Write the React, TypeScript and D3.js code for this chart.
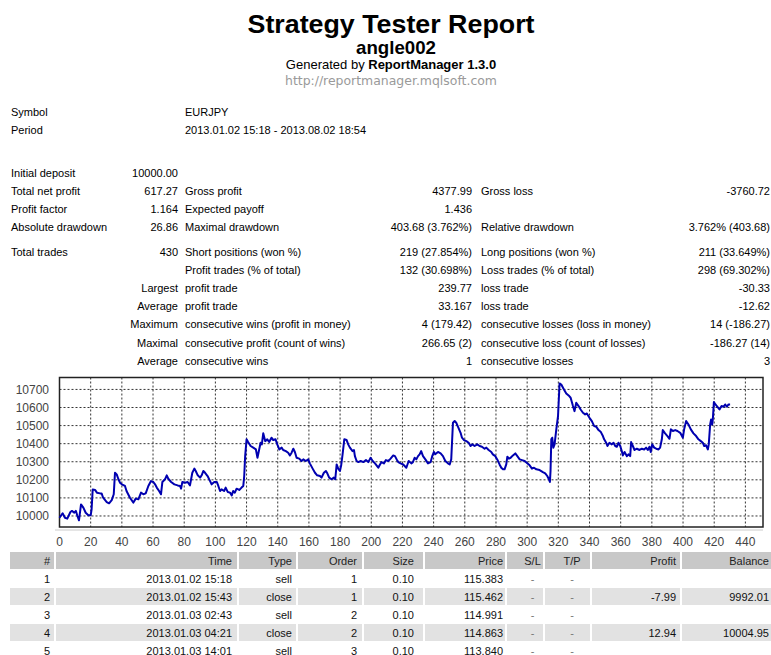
import React from 'react'
import * as d3 from 'd3'

// balance curve (trade number -> balance)
const tradeNo = [
  0, 2, 3.5, 5, 7, 8, 9.5, 10.5, 11.5, 12.5, 13.8, 15.3, 16.8, 18.5, 20, 20.6, 21.3, 22.8, 24, 26,
  27, 28, 30.3, 31.8, 33.5, 34.8, 35.6, 36.7, 37.8, 38.8, 40, 42, 43, 45.2, 47.4, 48.9, 50.6, 52.3, 53.8, 55.3,
  57, 58.7, 60.2, 61.3, 62.4, 63.9, 65.1, 66, 67.7, 68.8, 69.8, 71.6, 73.7, 75.8, 77.3, 78, 78.8, 80.5, 82.2, 83.7,
  85.2, 86.5, 87.4, 88.7, 90.2, 91.2, 92.3, 93.4, 95, 96.6, 97.6, 99.3, 100.9, 101.9, 103, 104, 105.6, 106.6, 107.9, 109.4,
  110.5, 111.4, 112.5, 113.6, 115.3, 116.8, 117.9, 118.5, 119.1, 120, 121, 122.6, 124.3, 126, 127, 128.1, 129, 129.8, 130.7, 132,
  133.3, 134.5, 136, 137.1, 138.6, 139.7, 141, 142.5, 143.5, 145.2, 146.7, 147.8, 148.9, 150, 151, 152.1, 153.8, 155.3, 156.4, 158,
  159.6, 160.6, 162.4, 163.9, 165.3, 167.1, 168.1, 169.6, 170.9, 171.8, 173, 174.5, 176, 176.9, 177.8, 178.8, 179.9, 180.7, 181.6, 182.7,
  184.2, 185.2, 186.3, 188, 188.9, 189.5, 190.6, 191.7, 193.2, 194.9, 196.6, 198.1, 199.6, 200.9, 202.4, 203.4, 204.5, 205.6, 206.6, 208.1,
  209.4, 210.9, 212.4, 214.1, 215.2, 216.3, 217.3, 218.8, 220.5, 222.5, 224, 225.7, 226.7, 227.8, 228.9, 230, 231, 232, 233.2, 234.7,
  236.4, 238.1, 239.1, 240.2, 241, 242.8, 244.5, 246, 247.5, 249.2, 250.3, 251.3, 252.4, 253.5, 254.5, 255.6, 257.3, 258.2, 259.5, 261,
  262.5, 263.7, 264.8, 266.3, 268, 269.5, 271, 272.7, 273.8, 275.3, 277, 278, 279.6, 280.8, 282.3, 283.4, 284.5, 285.5, 286.6, 287.3,
  288.3, 289.4, 290.9, 292.4, 293.7, 295.2, 296.7, 298.4, 300.1, 301.6, 303.1, 304.4, 305.9, 308, 310.1, 311.6, 312.9, 313.8, 314.6, 315,
  315.5, 316.1, 316.8, 317.6, 318.7, 319.8, 320.8, 321.9, 323.6, 325.1, 326.6, 327.9, 329.4, 330.4, 331.5, 333, 334.3, 335.8, 337.2, 338.3,
  340, 341.5, 343, 344.3, 345.8, 347.3, 348.6, 349.4, 350.7, 351.5, 352.8, 354.3, 355.4, 356.5, 357.5, 358.6, 359.7, 360.7, 361.4, 362.5,
  364, 365, 366.1, 366.7, 367.8, 368.9, 370.4, 372.1, 373.6, 375.1, 376.3, 377.4, 378.5, 379.3, 380.2, 381.5, 382.8, 384.3, 385.3, 386.4,
  387, 388.5, 390, 391.3, 392.2, 393.5, 395, 396.4, 398.2, 399.9, 400.7, 402, 403.5, 405, 406.7, 408.4, 409.9, 411.4, 412.7, 413.6,
  414.8, 415.9, 416.5, 417.4, 418, 418.7, 419.1, 419.8, 420.8, 422.1, 423.4, 424.7, 426, 427, 428.1, 429.2, 430.2,
]
const balance = [
  9990, 10015, 9990, 9985, 10022, 10028, 10018, 10028, 10000, 9976, 10064, 10046, 10018, 10004, 10004, 10037, 10147, 10144, 10129, 10125,
  10125, 10101, 10077, 10070, 10088, 10120, 10239, 10230, 10203, 10184, 10175, 10166, 10138, 10101, 10074, 10096, 10092, 10129, 10120, 10125,
  10166, 10193, 10188, 10175, 10157, 10138, 10120, 10188, 10203, 10225, 10206, 10188, 10175, 10169, 10166, 10151, 10188, 10184, 10188, 10169,
  10239, 10262, 10249, 10225, 10212, 10225, 10249, 10239, 10221, 10193, 10175, 10188, 10188, 10166, 10138, 10147, 10138, 10157, 10133, 10129,
  10114, 10138, 10129, 10151, 10144, 10157, 10166, 10221, 10331, 10424, 10409, 10387, 10378, 10368, 10322, 10368, 10405, 10396, 10457, 10414,
  10424, 10409, 10433, 10420, 10424, 10396, 10368, 10378, 10365, 10359, 10350, 10335, 10350, 10372, 10354, 10322, 10317, 10304, 10313, 10304,
  10313, 10291, 10262, 10239, 10225, 10221, 10212, 10239, 10249, 10236, 10212, 10203, 10212, 10203, 10285, 10262, 10249, 10280, 10341, 10424,
  10420, 10396, 10378, 10359, 10365, 10331, 10304, 10298, 10304, 10298, 10309, 10298, 10322, 10304, 10291, 10280, 10267, 10285, 10298, 10291,
  10309, 10304, 10317, 10335, 10331, 10313, 10298, 10291, 10285, 10267, 10304, 10291, 10298, 10322, 10313, 10331, 10341, 10359, 10331, 10313,
  10291, 10298, 10331, 10354, 10341, 10354, 10346, 10331, 10304, 10291, 10285, 10313, 10516, 10525, 10516, 10494, 10460, 10433, 10420, 10414,
  10405, 10387, 10396, 10387, 10396, 10387, 10383, 10372, 10378, 10365, 10354, 10341, 10331, 10313, 10285, 10267, 10258, 10258, 10285, 10328,
  10317, 10322, 10335, 10346, 10331, 10313, 10309, 10304, 10291, 10280, 10262, 10267, 10258, 10254, 10243, 10236, 10221, 10206, 10188, 10249,
  10424, 10433, 10378, 10396, 10479, 10552, 10733, 10727, 10700, 10678, 10667, 10654, 10608, 10580, 10626, 10608, 10589, 10571, 10562, 10567,
  10543, 10525, 10497, 10494, 10475, 10464, 10442, 10424, 10405, 10387, 10405, 10396, 10405, 10387, 10383, 10405, 10387, 10359, 10335, 10354,
  10331, 10341, 10331, 10409, 10387, 10365, 10372, 10365, 10372, 10368, 10378, 10365, 10383, 10354, 10396, 10378, 10372, 10368, 10378, 10424,
  10475, 10457, 10442, 10427, 10479, 10470, 10475, 10470, 10460, 10433, 10479, 10525, 10506, 10479, 10457, 10442, 10424, 10414, 10405, 10387,
  10391, 10368, 10396, 10506, 10534, 10506, 10534, 10630, 10617, 10604, 10589, 10608, 10604, 10617, 10604, 10617, 10617,
]

const xTicks = d3.range(0, 441, 20)
const yTicks = d3.range(10000, 10701, 100)

// summary block: [label, value, label, value, label, value]
const summaryRows = [
  ['Initial deposit', '10000.00', '', '', '', ''],
  ['Total net profit', '617.27', 'Gross profit', '4377.99', 'Gross loss', '-3760.72'],
  ['Profit factor', '1.164', 'Expected payoff', '1.436', '', ''],
  ['Absolute drawdown', '26.86', 'Maximal drawdown', '403.68 (3.762%)', 'Relative drawdown', '3.762% (403.68)'],
  ['Total trades', '430', 'Short positions (won %)', '219 (27.854%)', 'Long positions (won %)', '211 (33.649%)'],
  ['', '', 'Profit trades (% of total)', '132 (30.698%)', 'Loss trades (% of total)', '298 (69.302%)'],
  ['', 'Largest', 'profit trade', '239.77', 'loss trade', '-30.33'],
  ['', 'Average', 'profit trade', '33.167', 'loss trade', '-12.62'],
  ['', 'Maximum', 'consecutive wins (profit in money)', '4 (179.42)', 'consecutive losses (loss in money)', '14 (-186.27)'],
  ['', 'Maximal', 'consecutive profit (count of wins)', '266.65 (2)', 'consecutive loss (count of losses)', '-186.27 (14)'],
  ['', 'Average', 'consecutive wins', '1', 'consecutive losses', '3'],
]
const summaryY = [173, 191, 209, 227, 252, 270, 288, 306, 324, 343, 361]

const tableHead = ['#', 'Time', 'Type', 'Order', 'Size', 'Price', 'S/L', 'T/P', 'Profit', 'Balance']
const tableRows = [
  ['1', '2013.01.02 15:18', 'sell', '1', '0.10', '115.383', '-', '-', '', ''],
  ['2', '2013.01.02 15:43', 'close', '1', '0.10', '115.462', '-', '-', '-7.99', '9992.01'],
  ['3', '2013.01.03 02:43', 'sell', '2', '0.10', '114.991', '-', '-', '', ''],
  ['4', '2013.01.03 04:21', 'close', '2', '0.10', '114.863', '-', '-', '12.94', '10004.95'],
  ['5', '2013.01.03 14:01', 'sell', '3', '0.10', '113.840', '-', '-', '', ''],
]

const FONT = '"Liberation Sans", Arial, sans-serif'

export default function App() {
  const W = 771
  const H = 655
  const plot = { left: 59.5, right: 763, top: 377.5, bottom: 527 }

  const x = d3.scaleLinear().domain([0, 451.3]).range([plot.left, plot.right])
  const y = d3.scaleLinear().domain([9939, 10766]).range([plot.bottom, plot.top])

  const pts = tradeNo.map((t, i) => [t, balance[i]] as [number, number])
  const path = d3.line<[number, number]>()
    .x((d) => x(d[0]))
    .y((d) => y(d[1]))(pts)

  // table column cells [x0, x1], text anchor position, alignment
  const cells = [[10, 54], [56, 237], [239, 296], [298, 362], [364, 423], [425, 505], [507, 543], [545, 590], [592, 680], [682, 771]]
  const anchorX = [50, 232, 292, 357, 414, 503, 532.5, 572, 676, 769]
  const anchorType = ['end', 'end', 'end', 'end', 'end', 'end', 'middle', 'middle', 'end', 'end']
  const rowTop = d3.range(552, 660, 18)

  return (
    <svg width={W} height={H} style={{ position: 'absolute', left: 0, top: 0, background: '#fff' }} fontFamily={FONT}>
      <rect x={0} y={0} width={W} height={H} fill="#fff" />

      {/* header */}
      <text x={391} y={33} textAnchor="middle" fontSize={26} fontWeight="bold" textLength={287} lengthAdjust="spacingAndGlyphs">Strategy Tester Report</text>
      <text x={396} y={54} textAnchor="middle" fontSize={19} fontWeight="bold" textLength={80} lengthAdjust="spacingAndGlyphs">angle002</text>
      <text x={391} y={69} textAnchor="middle" fontSize={13}>
        Generated by <tspan fontWeight="bold">ReportManager 1.3.0</tspan>
      </text>
      <text x={391} y={85} textAnchor="middle" fontSize={12} fill="#9a9a9a" fontFamily='"DejaVu Sans", sans-serif' textLength={212} lengthAdjust="spacingAndGlyphs">http://reportmanager.mqlsoft.com</text>

      {/* symbol / period */}
      <g fontSize={11}>
        <text x={11} y={116}>Symbol</text>
        <text x={185} y={116}>EURJPY</text>
        <text x={11} y={134}>Period</text>
        <text x={185} y={134}>2013.01.02 15:18 - 2013.08.02 18:54</text>
      </g>

      {/* summary */}
      <g fontSize={11}>
        {summaryRows.map((r, i) => {
          const yy = summaryY[i] + 4
          return (
            <g key={i}>
              <text x={11} y={yy}>{r[0]}</text>
              <text x={178} y={yy} textAnchor="end">{r[1]}</text>
              <text x={185} y={yy}>{r[2]}</text>
              <text x={472} y={yy} textAnchor="end">{r[3]}</text>
              <text x={481} y={yy}>{r[4]}</text>
              <text x={770} y={yy} textAnchor="end">{r[5]}</text>
            </g>
          )
        })}
      </g>

      {/* chart */}
      <g>
        {yTicks.map((t) => (
          <g key={'y' + t}>
            <line x1={plot.left} x2={plot.right} y1={y(t)} y2={y(t)} stroke="#333" strokeDasharray="2,2" strokeWidth={1} />
            <text x={49} y={y(t) + 4.5} textAnchor="end" fontSize={12} fill="#444">{t}</text>
          </g>
        ))}
        {xTicks.map((t) => (
          <g key={'x' + t}>
            {t > 0 && <line x1={x(t)} x2={x(t)} y1={plot.top} y2={plot.bottom} stroke="#333" strokeDasharray="2,2" strokeWidth={1} />}
            <text x={x(t)} y={546} textAnchor="middle" fontSize={12} fill="#444">{t}</text>
          </g>
        ))}
        <rect x={plot.left} y={plot.top} width={plot.right - plot.left} height={plot.bottom - plot.top} fill="none" stroke="#222" strokeWidth={1.5} />
        <line x1={55} x2={plot.right} y1={530} y2={530} stroke="#ccc" strokeWidth={1} />
        <path d={path || ''} fill="none" stroke="#0000b0" strokeWidth={2} strokeLinejoin="round" />
      </g>

      {/* trades table */}
      <g fontSize={11}>
        {cells.map((c, j) => (
          <rect key={'h' + j} x={c[0]} y={rowTop[0]} width={c[1] - c[0]} height={17} fill="#c8c8c8" />
        ))}
        {tableHead.map((h, j) => (
          <text key={'ht' + j} x={anchorX[j]} y={rowTop[0] + 13} textAnchor={anchorType[j]} fill="#222">{h}</text>
        ))}
        {tableRows.map((r, i) => {
          const top = rowTop[i + 1]
          return (
            <g key={'r' + i}>
              {i % 2 === 1 && cells.map((c, j) => (
                <rect key={'c' + j} x={c[0]} y={top} width={c[1] - c[0]} height={17} fill="#e2e2e2" />
              ))}
              {r.map((v, j) => (
                <text key={'t' + j} x={anchorX[j]} y={top + 13} textAnchor={anchorType[j]} fill={j === 6 || j === 7 ? '#777' : '#111'}>{v}</text>
              ))}
            </g>
          )
        })}
      </g>
    </svg>
  )
}
